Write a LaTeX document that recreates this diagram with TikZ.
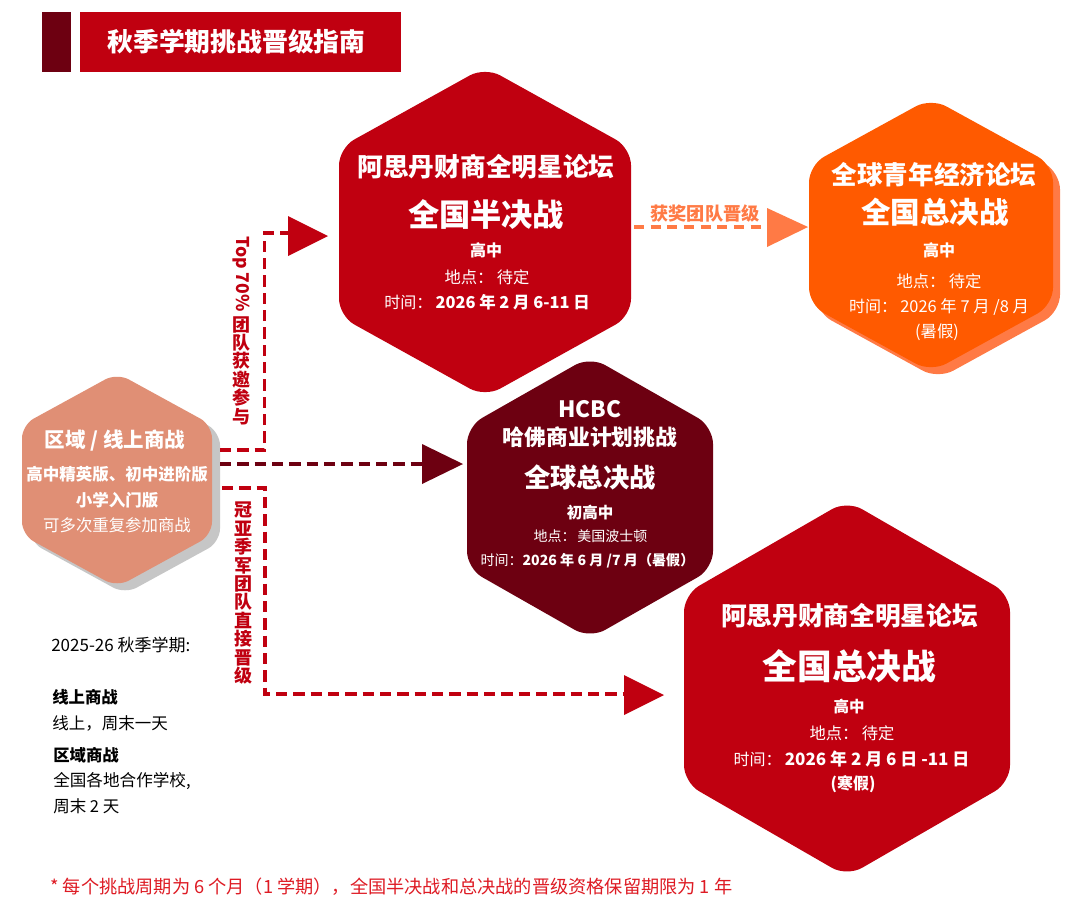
\documentclass[tikz,border=0pt]{standalone}
\usepackage{fontspec}
\setmainfont{Noto Sans CJK SC}
\definecolor{cRed}{HTML}{C00010}
\definecolor{cDark}{HTML}{6D0011}
\definecolor{cOrange}{HTML}{FF5A00}
\definecolor{cOrangeL}{HTML}{FF7A45}
\definecolor{cSalmon}{HTML}{E08F75}
\definecolor{cGrey}{HTML}{C6C6C6}
\definecolor{cFoot}{HTML}{DE1B24}
\newcommand{\hexa}[7][13pt]{% radius; cx cy halfwidth halfheight sidehalf colour
  \fill[#7, rounded corners=#1] (#2,#3-#5) -- (#2+#4,#3-#6) -- (#2+#4,#3+#6) -- (#2,#3+#5) -- (#2-#4,#3+#6) -- (#2-#4,#3-#6) -- cycle;}
\newcommand{\px}[1]{\fontsize{\fpeval{#1*0.75}pt}{\fpeval{#1*0.9}pt}\selectfont}
\newcommand{\cgap}{\hspace{2.5pt}}
\tikzset{
  x=0.75pt, y=-0.75pt,
  txt/.style={inner sep=0pt, text=white, anchor=center},
  note/.style={inner sep=0pt, text=black, anchor=west},
  vlabel/.style={inner sep=0pt, text=cRed, align=center, font=\bfseries\fontsize{13.5pt}{13.8pt}\selectfont},
  link/.style={line width=2.5pt, dash pattern=on 8.5pt off 4.5pt},
  linkshort/.style={line width=2.5pt, dash pattern=on 7.5pt off 5pt}
}
\begin{document}
\begin{tikzpicture}
\useasboundingbox (0,0) rectangle (1080,918);
\fill[white] (0,0) rectangle (1080,918);
% header
\fill[cDark] (42,12) rectangle (71,72);
\fill[cRed] (80,12) rectangle (401,72);
\node[txt] (title) at (236.5,42) {\bfseries\px{25.8}秋季学期挑战晋级指南};
% hexagons
\hexa[10pt]{125}{487}{95}{107}{55}{cGrey}
\hexa[10pt]{117}{480}{95}{107}{55}{cSalmon}
\hexa{485}{232}{146}{165}{84}{cRed}
\hexa{938}{242}{122}{137}{70}{cOrangeL}
\hexa{931}{235}{122}{137}{70}{cOrange}
\hexa{590}{497.5}{123}{141}{71}{cDark}
\hexa{847}{688.5}{163}{188}{94}{cRed}
% connector ends
\coordinate (s1) at (220,450);
\coordinate (b1) at (264.5,450);
\coordinate (b2) at (264.5,233);
\coordinate (e1) at (290,233);
\coordinate (s2) at (220,464);
\coordinate (e2) at (424,464);
\coordinate (s3) at (222,488);
\coordinate (b3) at (265,488);
\coordinate (b4) at (265,694);
\coordinate (e3) at (626,694);
\coordinate (s4) at (634,227);
\coordinate (e4) at (769,227);
% connectors
\draw[link,cRed] (s1) -- (b1) -- (b2) -- (e1);
\draw[link,cDark] (s2) -- (e2);
\draw[link,cRed] (s3) -- (b3) -- (b4) -- (e3);
\draw[linkshort,cOrangeL] (s4) -- (e4);
% arrowheads
\fill[cRed] (288,216) -- (328,236) -- (288,256) -- cycle;
\fill[cDark] (422,444) -- (463,464) -- (422,484) -- cycle;
\fill[cRed] (624,675) -- (664,695) -- (624,715) -- cycle;
\fill[cOrangeL] (767,208) -- (808,227) -- (767,247) -- cycle;
% connector labels
\node[inner sep=0pt,text=cOrangeL] (l4) at (705,214) {\bfseries\px{18.2}获奖团队晋级};
\node[inner sep=0pt,text=cRed,rotate=-90] (l1a) at (241,274) {\bfseries\px{17.6}Top 70\%};
\node[vlabel,anchor=north] (l1b) at (241,316) {团\\队\\获\\邀\\参\\与};
\node[vlabel,anchor=north] (l3) at (243,502) {冠\\亚\\季\\军\\团\\队\\直\\接\\晋\\级};
% region
\node[txt] (r1) at (115,441) {\bfseries\px{20.5}区域 / 线上商战};
\node[txt] (r2) at (117,474) {\bfseries\px{16.5}高中精英版、初中进阶版};
\node[txt] (r3) at (117,500) {\bfseries\px{16.5}小学入门版};
\node[txt] (r4) at (117,525) {\px{16.4}可多次重复参加商战};
% semi-final
\node[txt] (a1) at (486,167) {\bfseries\px{25.7}阿思丹财商全明星论坛};
\node[txt] (a2) at (486,215) {\bfseries\px{31.2}全国半决战};
\node[txt] (a3) at (486,250) {\bfseries\px{16}高中};
\node[txt] (a4) at (487,277) {\px{16.3}地点：\cgap 待定};
\node[txt] (a5) at (487,302) {\px{16}时间：\cgap\bfseries\px{16.4}2026 年 2 月 6-11 日};
% orange
\node[txt] (o1) at (934,175) {\bfseries\px{25.6}全球青年经济论坛};
\node[txt] (o2) at (935,212) {\bfseries\px{29.5}全国总决战};
\node[txt] (o3) at (939,250) {\bfseries\px{16}高中};
\node[txt] (o4) at (939,281) {\px{16.3}地点：\cgap 待定};
\node[txt] (o5) at (939,307) {\px{16}时间：\cgap\px{16.4}2026 年 7 月 /8 月};
\node[txt] (o6) at (937,332) {\px{16.4}(暑假)};
% HCBC
\node[txt] (h1) at (590,409) {\bfseries\px{22.5}HCBC};
\node[txt] (h2) at (590,437) {\bfseries\px{21.8}哈佛商业计划挑战};
\node[txt] (h3) at (590,477) {\bfseries\px{26.3}全球总决战};
\node[txt] (h4) at (590,513) {\bfseries\px{15.5}初高中};
\node[txt] (h5) at (590.5,536) {\px{14}地点：\hspace{1.2pt}美国波士顿};
\node[txt] (h6) at (587.5,561) {\px{14}时间：\bfseries\px{14.1}2026 年 6 月 /7 月（暑假）};
% national final
\node[txt] (n1) at (849.5,616) {\bfseries\px{25.7}阿思丹财商全明星论坛};
\node[txt] (n2) at (849.5,666) {\bfseries\px{34.7}全国总决战};
\node[txt] (n3) at (849,707) {\bfseries\px{15.5}高中};
\node[txt] (n4) at (852,733) {\px{16.3}地点：\cgap 待定};
\node[txt] (n5) at (851.5,759) {\px{16}时间：\cgap\bfseries\px{17}2026 年 2 月 6 日 -11 日};
\node[txt] (n6) at (853,784) {\bfseries\px{16}(寒假)};
% notes
\node[note] (t1) at (51,645) {\px{17}2025-26 秋季学期:};
\node[note] (t2) at (52,697) {\bfseries\px{16.4}线上商战};
\node[note] (t3) at (52,723) {\px{16.5}线上，周末一天};
\node[note] (t4) at (53,755) {\bfseries\px{16.4}区域商战};
\node[note] (t5) at (53,781) {\px{16.6}全国各地合作学校,};
\node[note] (t6) at (53,806) {\px{16.5}周末 2 天};
\node[note,text=cFoot] (f) at (50,887) {\px{18.2}* 每个挑战周期为 6 个月（1 学期），全国半决战和总决战的晋级资格保留期限为 1 年};
\end{tikzpicture}
\end{document}
